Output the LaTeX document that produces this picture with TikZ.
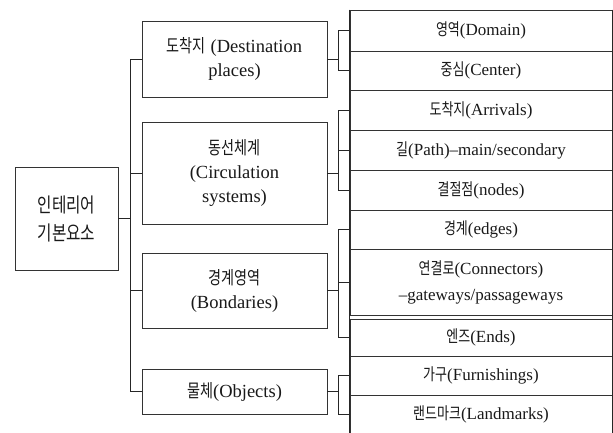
\documentclass[tikz,border=0pt]{standalone}
\usepackage{fontspec}
\setmainfont{Liberation Serif}
\newfontfamily\kr{Noto Sans CJK KR}[Scale=0.98, FakeStretch=0.78]
\newcommand\K[1]{{\kr #1}}
\begin{document}
\begin{tikzpicture}[x=1pt,y=-1pt,
  box/.style={draw=black!80, line width=0.9pt, rectangle, inner sep=0pt, align=center, text=black!90},
  leaf/.style={box, minimum width=262pt, font=\fontsize{17}{26}\selectfont},
  midbox/.style={box, minimum width=185pt, font=\fontsize{18.5}{24}\selectfont},
  rootbox/.style={box, minimum width=103pt, minimum height=103pt, font=\fontsize{20.5}{28}\selectfont},
  conn/.style={draw=black!85, line width=0.9pt}]
\useasboundingbox (0,0) rectangle (613,432);
\fill[white] (0,0) rectangle (613,432);
\coordinate (sx) at (130,0);
\coordinate (bx) at (338,0);
% root
\node[rootbox] (root) at (66.5,218.5) {\K{인테리어}\\\K{기본요소}};
% middle boxes
\node[midbox, minimum height=76pt] (m1) at (234.5,59) {\K{도착지} (Destination\\places)};
\node[midbox, minimum height=102pt] (m2) at (234.5,173) {\K{동선체계}\\(Circulation\\systems)};
\node[midbox, minimum height=75pt] (m3) at (234.5,290.5) {\K{경계영역}\\(Bondaries)};
\node[midbox, minimum height=45pt] (m4) at (234.5,391.5) {\K{물체}(Objects)};
% leaves
\node[leaf, minimum height=41pt] (d1) at (481,30.5) {\K{영역}(Domain)};
\node[leaf, minimum height=39pt] (d2) at (481,70.5) {\K{중심}(Center)};
\node[leaf, minimum height=40pt] (c1) at (481,110) {\K{도착지}(Arrivals)};
\node[leaf, minimum height=40pt] (c2) at (481,150) {\K{길}(Path)–main/secondary};
\node[leaf, minimum height=40pt] (c3) at (481,190) {\K{결절점}(nodes)};
\node[leaf, minimum height=39pt] (b1) at (481,229.5) {\K{경계}(edges)};
\node[leaf, minimum height=66.5pt] (b2) at (481,282.25) {\K{연결로}(Connectors)\\–gateways/passageways};
\node[leaf, minimum height=37pt] (b3) at (481,337.5) {\K{엔즈}(Ends)};
\node[leaf, minimum height=39pt] (o1) at (481,375.5) {\K{가구}(Furnishings)};
\node[leaf, minimum height=39pt] (o2) at (481,414.5) {\K{랜드마크}(Landmarks)};
\draw[conn] (d1.north west) -- (o2.south west);
\draw[conn] (d1.north east) -- (o2.south east);
% spine
\draw[conn] (root.east) -- (root.east -| sx);
\draw[conn] (m1.west -| sx) -- (m4.west -| sx);
\foreach \m in {m1,m2,m3,m4} {\draw[conn] (\m.west) -- (\m.west -| sx);}
% brackets
\foreach \m/\a/\b in {m1/d1/d2, m2/c1/c3, m3/b1/b3, m4/o1/o2} {
  \draw[conn] (\m.east) -- (\m.east -| bx);
  \draw[conn] (\a.west -| bx) -- (\b.west -| bx);
}
\foreach \l in {d1,d2,c1,c2,c3,b1,b2,b3,o1,o2} {\draw[conn] (\l.west) -- (\l.west -| bx);}
\end{tikzpicture}
\end{document}
